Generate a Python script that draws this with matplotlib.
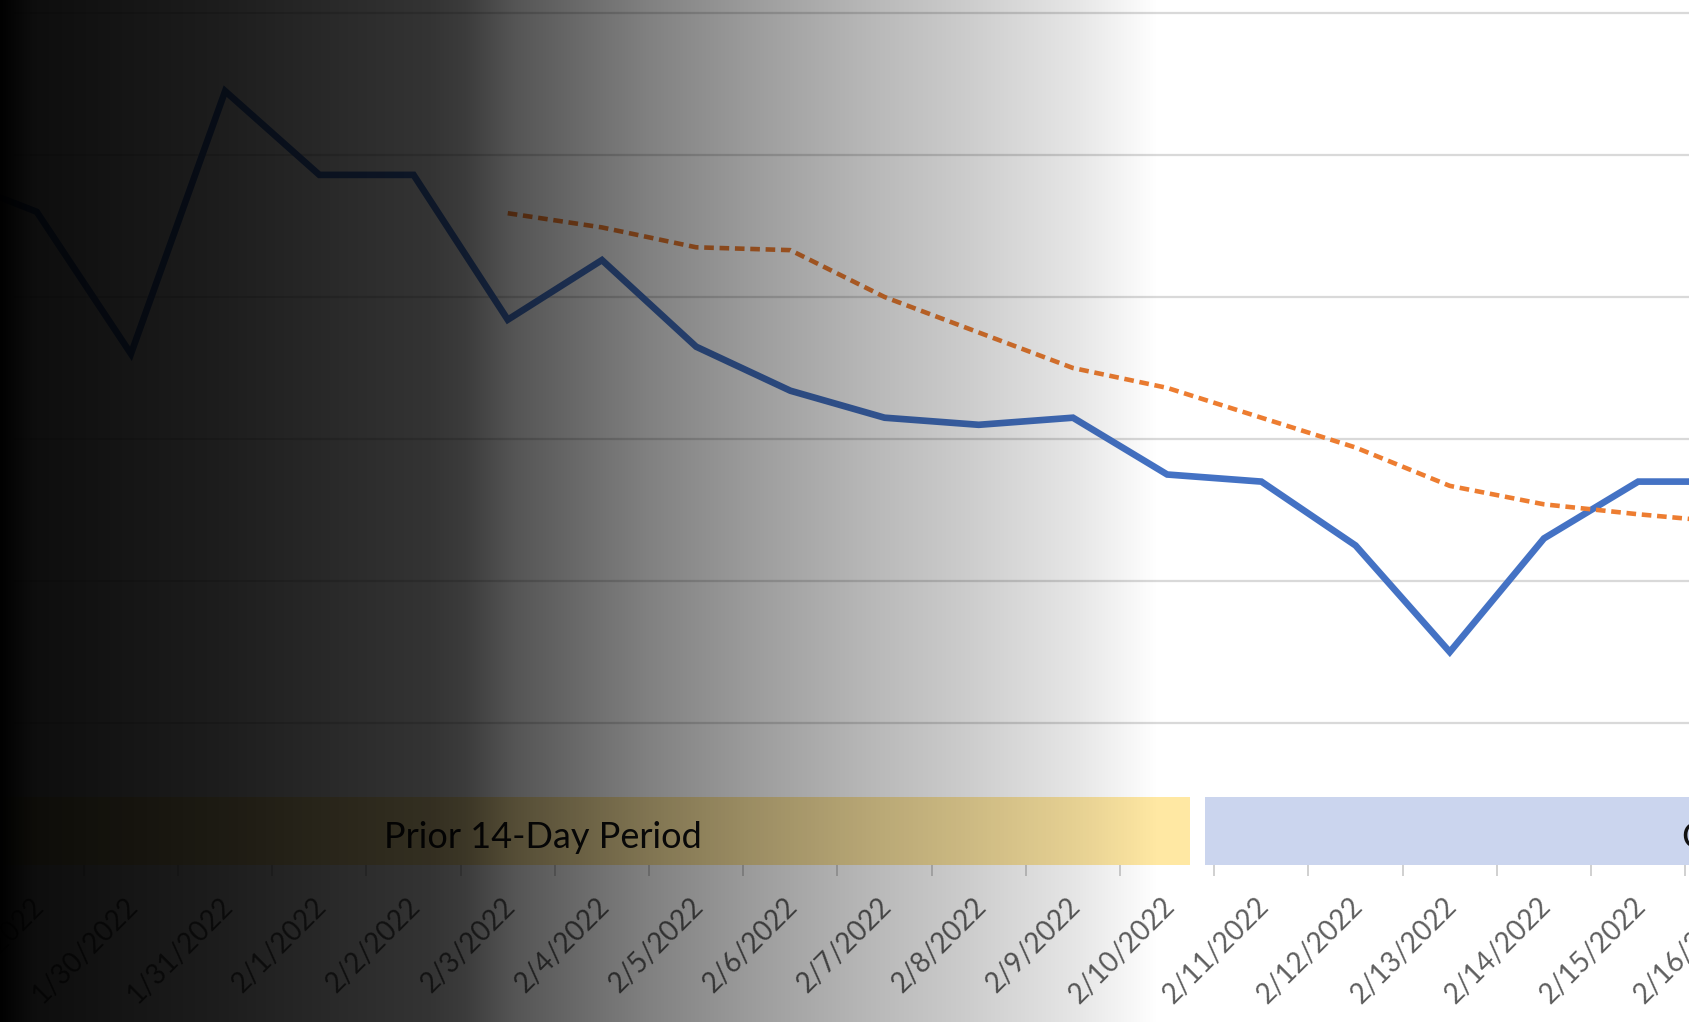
import numpy as np
import matplotlib
matplotlib.use("Agg")
import matplotlib.pyplot as plt
import matplotlib.transforms as mtransforms
from matplotlib.ticker import FixedLocator, NullFormatter

plt.rcParams['font.family'] = ['Lato', 'DejaVu Sans']

# ---- data ----
dates = ["1/28/2022", "1/29/2022", "1/30/2022", "1/31/2022", "2/1/2022", "2/2/2022",
         "2/3/2022", "2/4/2022", "2/5/2022", "2/6/2022", "2/7/2022", "2/8/2022",
         "2/9/2022", "2/10/2022", "2/11/2022", "2/12/2022", "2/13/2022", "2/14/2022",
         "2/15/2022", "2/16/2022", "2/17/2022"]
daily = [48.6, 46.0, 36.0, 54.5, 48.6, 48.6, 38.4, 42.6, 36.5, 33.4, 31.5, 31.0,
         31.5, 27.5, 27.0, 22.5, 15.0, 23.0, 27.0, 27.0, 27.0]
avg7 = [None, None, None, None, None, None, 45.9, 44.9, 43.5, 43.3, 40.0, 37.5,
        35.0, 33.6, 31.5, 29.4, 26.7, 25.4, 24.7, 24.1, 23.8]
period_labels = ["Prior 14-Day Period", "Current 14-Day Period"]

# ---- figure ----
W, H, DPI = 16.9, 10.22, 100
fig = plt.figure(figsize=(W, H), dpi=DPI)
fig.patch.set_facecolor("white")

axis_y = 865 / 1022.0
ax = fig.add_axes([0, 1 - axis_y, 1, axis_y])
ax.set_facecolor("white")

offset = 2  # index of 1/30 at x=0
x = np.arange(len(dates)) - offset
ax.set_xlim(-1.39, 16.55)
ymax = 60 + 13 / 14.2
ax.set_ylim(0, ymax)

for v in range(10, 61, 10):
    ax.axhline(v, color="#D9D9D9", lw=1.6, zorder=1)

ax.plot(x, daily, color="#4472C4", lw=4.8, solid_joinstyle="miter", zorder=3)
avg_x = [xi for xi, v in zip(x, avg7) if v is not None]
avg_y = [v for v in avg7 if v is not None]
ax.plot(avg_x, avg_y, color="#ED7D31", lw=3.3, dashes=(2.1, 1.25),
        dash_capstyle="butt", zorder=3)

# period bands
band_top = 68 / 14.2
ax.axvspan(-5, 11.24, ymin=0, ymax=band_top / ymax, color="#FFE8A3", lw=0, zorder=2)
ax.axvspan(11.40, 25, ymin=0, ymax=band_top / ymax, color="#CBD5EE", lw=0, zorder=2)
ax.text(4.37, band_top / 2 - 0.45, period_labels[0], ha="center", va="center",
        fontsize=26, color="#111111", zorder=4)
ax.text(16.47, band_top / 2 - 0.45, period_labels[1], ha="left", va="center",
        fontsize=26, color="#111111", zorder=4)

for s in ax.spines.values():
    s.set_visible(False)
ax.yaxis.set_visible(False)

# ticks at category boundaries
ax.xaxis.set_major_locator(FixedLocator(np.arange(-3, 20) + 0.5))
ax.xaxis.set_major_formatter(NullFormatter())
ax.tick_params(axis="x", which="major", length=8, width=1.2, color="#C8C8C8", direction="out")

# category labels at centers (drawn as text so partly visible ones remain)
trans = mtransforms.offset_copy(ax.get_xaxis_transform(), fig=fig, x=-6, y=-28, units="dots")
for xi, d in zip(x, dates):
    ax.text(xi, 0, d, transform=trans, rotation=45, ha="right", va="top",
            rotation_mode="anchor", fontsize=20, color="#5F5F5F", clip_on=False)

# dark gradient overlay
ov = fig.add_axes([0, 0, 1, 1], zorder=10)
ov.axis("off")
stops_x = [0.0, 0.02, 0.13, 0.255, 0.275, 0.305, 0.383, 0.446, 0.51, 0.574, 0.638, 0.686, 1.0]
stops_a = [1.0, 0.95, 0.89, 0.80, 0.77, 0.67, 0.50, 0.39, 0.29, 0.20, 0.10, 0.0, 0.0]
xs = np.linspace(0, 1, 1690)
alpha = np.interp(xs, stops_x, stops_a)
img = np.zeros((1, len(xs), 4))
img[0, :, 3] = alpha
ov.imshow(img, extent=[0, 1, 0, 1], aspect="auto", interpolation="bilinear")
ov.set_xlim(0, 1)
ov.set_ylim(0, 1)

fig.savefig("out.png", dpi=DPI)
